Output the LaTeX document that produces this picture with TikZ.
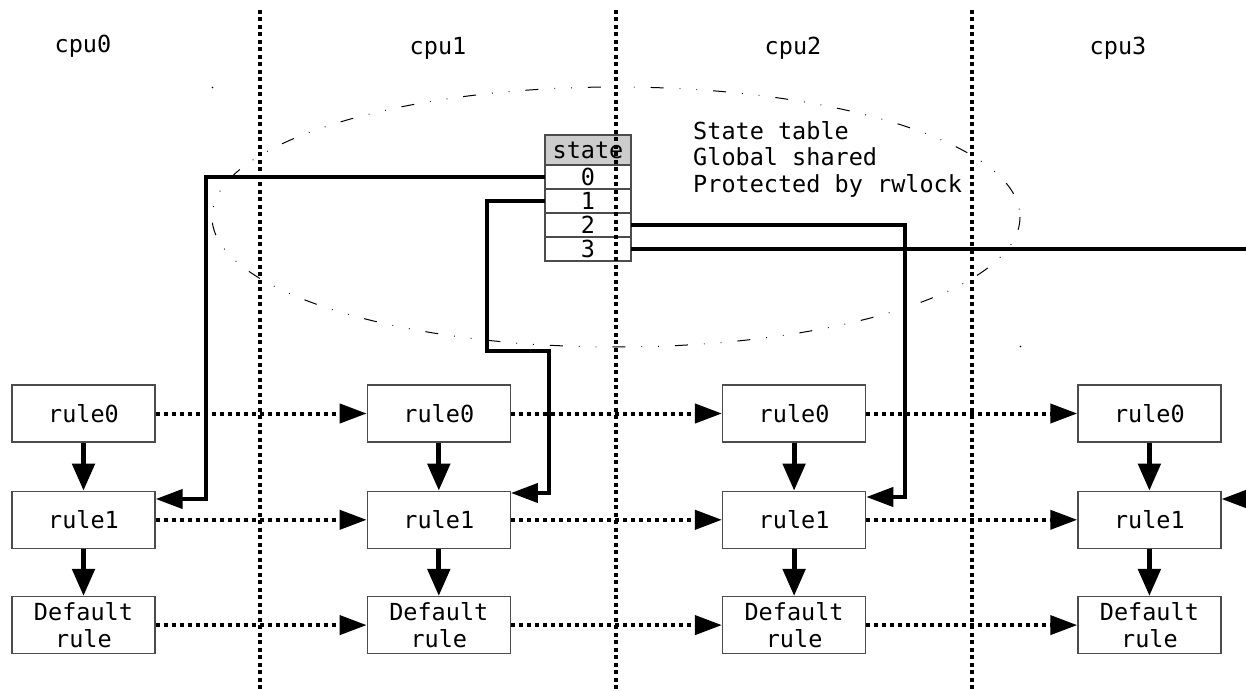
\documentclass[tikz,border=0pt]{standalone}
\usepackage{fontspec}
\newfontfamily\codefont{DejaVu Sans Mono}
\usetikzlibrary{arrows.meta,positioning}
\definecolor{boxedge}{gray}{0.3}
\definecolor{headgray}{gray}{0.8}

\begin{document}
\begin{tikzpicture}[x=1pt,y=-1pt,font=\codefont\fontsize{23.5}{26.5}\selectfont,
   rulebox/.style={draw=boxedge,line width=1.3pt,minimum width=143pt,minimum height=57pt,
                   align=center,inner sep=0pt},
   cell/.style={draw=boxedge,line width=1.2pt,minimum width=86pt,minimum height=24pt,
                inner sep=0pt,outer sep=0pt},
   flow/.style={-{Triangle[length=27pt,width=22pt]},line width=5pt},
   link/.style={-{Triangle[length=27pt,width=19pt]},line width=4pt,dash pattern=on 4pt off 4pt},
   wire/.style={line width=4pt},
   wirearrow/.style={wire,-{Triangle[length=27pt,width=19pt]}},
   cpuline/.style={line width=4pt,dash pattern=on 4pt off 3.5pt}]
  \useasboundingbox (0,0) rectangle (1246,692);

  % per-cpu headings
  \node (cpu0) at (83,46) {cpu0};
  \node (cpu1) at (438,48) {cpu1};
  \node (cpu2) at (793,48) {cpu2};
  \node (cpu3) at (1118,48) {cpu3};

  % the shared region
  \draw[line width=1pt,dash pattern=on 13pt off 16pt on 0.8pt off 16pt on 0.8pt off 16pt]
       (616,217) ellipse [x radius=404, y radius=130];
  \fill (212.5,87.5) circle [radius=0.8pt];
  \fill (1020.5,346.5) circle [radius=0.8pt];
  \node[anchor=west,align=left,inner sep=0pt] (note) at (693,159)
       {State table\\Global shared\\Protected by rwlock};

  % rule chains, one column per cpu
  \node[rulebox] (c0r0) at (83.5,413.5) {rule0};
  \node[rulebox,below=48pt of c0r0] (c0r1) {rule1};
  \node[rulebox,below=47pt of c0r1] (c0d) {Default\\rule};
  \node[rulebox,right=211pt of c0r0] (c1r0) {rule0};
  \node[rulebox,below=48pt of c1r0] (c1r1) {rule1};
  \node[rulebox,below=47pt of c1r1] (c1d) {Default\\rule};
  \node[rulebox,right=211pt of c1r0] (c2r0) {rule0};
  \node[rulebox,below=48pt of c2r0] (c2r1) {rule1};
  \node[rulebox,below=47pt of c2r1] (c2d) {Default\\rule};
  \node[rulebox,right=211pt of c2r0] (c3r0) {rule0};
  \node[rulebox,below=48pt of c3r0] (c3r1) {rule1};
  \node[rulebox,below=47pt of c3r1] (c3d) {Default\\rule};

  \draw[flow] (c0r0) -- (c0r1);
  \draw[flow] (c0r1) -- (c0d);
  \draw[flow] (c1r0) -- (c1r1);
  \draw[flow] (c1r1) -- (c1d);
  \draw[flow] (c2r0) -- (c2r1);
  \draw[flow] (c2r1) -- (c2d);
  \draw[flow] (c3r0) -- (c3r1);
  \draw[flow] (c3r1) -- (c3d);

  \draw[link] (c0r0) -- (c1r0);
  \draw[link] (c1r0) -- (c2r0);
  \draw[link] (c2r0) -- (c3r0);
  \draw[link] (c0r1) -- (c1r1);
  \draw[link] (c1r1) -- (c2r1);
  \draw[link] (c2r1) -- (c3r1);
  \draw[link] (c0d) -- (c1d);
  \draw[link] (c1d) -- (c2d);
  \draw[link] (c2d) -- (c3d);

  % state table
  \node[cell,fill=headgray,minimum height=30pt] (st) at (588,150) {state};
  \node[cell,below=0pt of st] (s0) {0};
  \node[cell,below=0pt of s0] (s1) {1};
  \node[cell,below=0pt of s1] (s2) {2};
  \node[cell,below=0pt of s2] (s3) {3};

  % table entries to the rule1 of each cpu
  \coordinate (k0) at (206,499);
  \coordinate (k1a) at (487,351);
  \coordinate (k1b) at (549,493);
  \coordinate (k2) at (905,497);
  \coordinate (k3) at (1246,248);
  \coordinate (k4) at (1246,499);
  \draw[wirearrow] (s0.west) -| (k0) -- (k0 -| c0r1.east);
  \draw[wirearrow] (s1.west) -| (k1a) -| (k1b) -- (k1b -| c1r1.east);
  \draw[wirearrow] (s2.east) -| (k2) -- (k2 -| c2r1.east);
  \draw[wire] (s3.east) -- (s3.east -| k3);
  \draw[wirearrow] (k4) -- (k4 -| c3r1.east);

  % cpu boundaries
  \draw[cpuline] (260,10) -- (260,692);
  \draw[cpuline] (616,10) -- (616,692);
  \draw[cpuline] (972,10) -- (972,692);
\end{tikzpicture}
\end{document}
